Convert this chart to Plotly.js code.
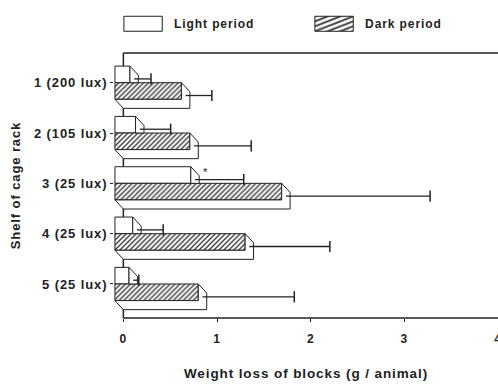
<!DOCTYPE html>
<html>
<head>
<meta charset="utf-8">
<script src="https://cdn.plot.ly/plotly-3.0.1.min.js"></script>
<style>
html,body{margin:0;padding:0;background:#fff;}
#chart{width:498px;height:384px;}
text{letter-spacing:0.9px;}
#chart .legendpoints path{transform:translate(31px,0) scale(3.2,1.25);vector-effect:non-scaling-stroke;}
</style>
</head>
<body>
<div id="chart"></div>
<script>
// ---- data ----
var shelves = ['1 (200 lux)', '2 (105 lux)', '3 (25 lux)', '4 (25 lux)', '5 (25 lux)'];
var lightLoss = [0.16, 0.22, 0.81, 0.19, 0.15];
var lightErr  = [0.18, 0.33, 0.52, 0.28, 0.06];
var darkLoss  = [0.71, 0.80, 1.78, 1.39, 0.89];
var darkErr   = [0.28, 0.61, 1.54, 0.86, 0.98];
var xTicks = [0, 1, 2, 3, 4];

// ---- drawing style constants ----
var DX = 0.09;   // depth of 3D bars along x (data units)
var DY = 0.18;   // depth of 3D bars along y (row units)
var H  = 0.33;   // thickness of each bar (row units)
var INK = '#222';
var FONT = 'Liberation Sans, Arial, sans-serif';

var rows = shelves.map(function (_, i) { return i + 1; });
var lightY = rows.map(function (r) { return r - H / 2; });
var darkY  = rows.map(function (r) { return r + H / 2; });

// side faces of light bars
var lsx = [], lsy = [];
lightLoss.forEach(function (v, i) {
  var r = rows[i];
  lsx.push(v - DX, v, v, v - DX, v - DX, null);
  lsy.push(r - H, r - H + DY, r, r, r - H, null);
});
// bottom and right faces of dark bars
var dsx = [], dsy = [];
darkLoss.forEach(function (v, i) {
  var r = rows[i];
  dsx.push(-DX, 0, v, v, v - DX, v - DX, -DX, null);
  dsy.push(r + H, r + H + DY, r + H + DY, r + DY, r, r + H, r + H, null);
});

// error bars: line from the middle of the side face to mean + SD, cap at the end only
function errGeom(vals, errs, ys) {
  var lx = [], ly = [], cx = [], cy = [];
  vals.forEach(function (v, i) {
    var y = ys[i] + DY / 2;
    lx.push(v - DX / 2, v - DX / 2 + errs[i], null);
    ly.push(y, y, null);
    cx.push(v - DX / 2 + errs[i]);
    cy.push(y);
  });
  return { lx: lx, ly: ly, cx: cx, cy: cy };
}
var le = errGeom(lightLoss, lightErr, lightY);
var de = errGeom(darkLoss, darkErr, darkY);

var traces = [
  {
    type: 'bar', orientation: 'h', name: 'Light period',
    y: lightY, x: lightLoss, base: lightLoss.map(function () { return -DX; }),
    width: H,
    marker: { color: '#fff', line: { color: INK, width: 1 } },
    hoverinfo: 'skip'
  },
  {
    type: 'bar', orientation: 'h', name: 'Dark period',
    y: darkY, x: darkLoss, base: darkLoss.map(function () { return -DX; }),
    width: H,
    marker: {
      color: '#fff', line: { color: INK, width: 1 },
      pattern: { shape: '/', size: 3.5, solidity: 0.38, fgcolor: '#333', bgcolor: '#fff' }
    },
    hoverinfo: 'skip'
  },
  {
    type: 'scatter', mode: 'lines', x: lsx, y: lsy, fill: 'toself',
    fillcolor: '#fff', line: { color: INK, width: 1 }, showlegend: false, hoverinfo: 'skip'
  },
  {
    type: 'scatter', mode: 'lines', x: dsx, y: dsy, fill: 'toself',
    fillcolor: '#fff', line: { color: INK, width: 1 }, showlegend: false, hoverinfo: 'skip'
  },
  {
    type: 'scatter', mode: 'lines', x: le.lx.concat(de.lx), y: le.ly.concat(de.ly),
    line: { color: INK, width: 1.3 }, showlegend: false, hoverinfo: 'skip'
  },
  {
    type: 'scatter', mode: 'markers', x: le.cx.concat(de.cx), y: le.cy.concat(de.cy),
    marker: { symbol: 'line-ns-open', size: 8, color: INK, line: { color: INK, width: 1.5 } },
    showlegend: false, hoverinfo: 'skip'
  }
];

var layout = {
  width: 498, height: 384,
  margin: { l: 114, r: 0, t: 53, b: 66, pad: 0 },
  paper_bgcolor: '#fff', plot_bgcolor: '#fff',
  barmode: 'overlay',
  font: { family: FONT, color: INK, size: 12 },
  showlegend: true,
  legend: {
    orientation: 'h', x: -0.005, xanchor: 'left', y: 1.165, yanchor: 'top',
    font: { family: FONT, size: 12, weight: 'bold', color: INK },
    entrywidth: 124, itemwidth: 52, traceorder: 'normal'
  },
  xaxis: {
    range: [-0.1, 4.0], tickvals: xTicks, ticktext: xTicks.map(String),
    showgrid: false, showline: false, zeroline: false,
    ticks: 'outside', ticklen: 3, tickcolor: INK, ticklabelstandoff: 7,
    ticklabeloverflow: 'allow',
    tickfont: { family: FONT, size: 12, weight: 'bold', color: INK },
    title: { text: 'Weight loss of blocks (g / animal)', standoff: 23,
             font: { family: FONT, size: 13.5, weight: 'bold', color: INK } },
    fixedrange: true
  },
  yaxis: {
    range: [5.676, 0.41], tickvals: rows, ticktext: shelves,
    showgrid: false, showline: false, zeroline: false,
    ticks: 'outside', ticklen: 3, tickcolor: INK,
    tickfont: { family: FONT, size: 13, weight: 'bold', color: INK },
    title: { text: 'Shelf of cage rack', standoff: 10,
             font: { family: FONT, size: 13, weight: 'bold', color: INK } },
    fixedrange: true
  },
  shapes: [
    { type: 'line', xref: 'x', yref: 'paper', x0: 0, x1: 0, y0: 0, y1: 1,
      layer: 'below', line: { color: INK, width: 1.5 } },
    { type: 'line', xref: 'x', yref: 'paper', x0: 0, x1: 4.0, y0: 1, y1: 1,
      line: { color: INK, width: 1.5 } },
    { type: 'line', xref: 'x', yref: 'paper', x0: 0, x1: 4.0, y0: 0, y1: 0,
      line: { color: INK, width: 1.5 } }
  ],
  annotations: [
    { x: lightLoss[2] + 0.07, y: rows[2] - 0.22, xref: 'x', yref: 'y', text: '*',
      showarrow: false, font: { family: FONT, size: 11, color: INK } }
  ]
};

Plotly.newPlot('chart', traces, layout, { displayModeBar: false, staticPlot: true });
</script>
</body>
</html>
